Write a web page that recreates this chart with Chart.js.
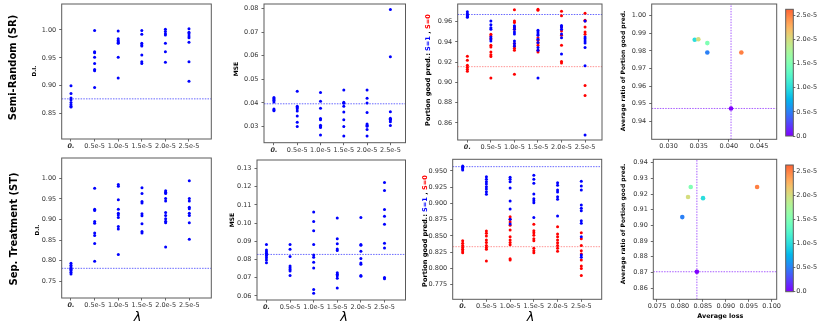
<!DOCTYPE html>
<html><head><meta charset="utf-8">
<script src="https://cdn.jsdelivr.net/npm/chart.js@4/dist/chart.umd.min.js"></script>
<style>
html,body{margin:0;padding:0;background:#fff;}
#wrap{position:relative;width:822px;height:329px;overflow:hidden;background:#fff;}
#wrap canvas{position:absolute;left:0;top:0;}
</style></head><body><div id="wrap"></div>
<script>
// ---------------- DATA ----------------
const lambdaLabels = ['0.', '0.5e-5', '1.0e-5', '1.5e-5', '2.0e-5', '2.5e-5'];
const lambdaValues = [0, 0.5e-5, 1.0e-5, 1.5e-5, 2.0e-5, 2.5e-5];
const colorbarLabels = ['0.0', '0.5e-5', '1.0e-5', '1.5e-5', '2.0e-5', '2.5e-5'];
const colorbarMax = 2.625e-5;

// Semi-Random (SR) row
const srDI = [
  [0.900, 0.886, 0.878, 0.875, 0.870, 0.866, 0.863, 0.862],
  [0.999, 0.961, 0.959, 0.951, 0.940, 0.929, 0.927, 0.897],
  [0.998, 0.984, 0.981, 0.979, 0.977, 0.976, 0.951, 0.914],
  [0.999, 0.992, 0.976, 0.973, 0.971, 0.955, 0.943, 0.940],
  [1.001, 0.997, 0.993, 0.991, 0.976, 0.961, 0.942],
  [1.002, 0.996, 0.993, 0.989, 0.986, 0.978, 0.943, 0.908]
];
const srDIBase = 0.8765;
const srMSE = [
  [0.0423, 0.0418, 0.0413, 0.0410, 0.0404, 0.0374, 0.0370, 0.0366],
  [0.0449, 0.0386, 0.0380, 0.0375, 0.0365, 0.0344, 0.0318, 0.0299],
  [0.0444, 0.0407, 0.0377, 0.0334, 0.0328, 0.0305, 0.0299, 0.0295, 0.0263],
  [0.0455, 0.0403, 0.0398, 0.0386, 0.0361, 0.0328, 0.0300, 0.0259],
  [0.0455, 0.0420, 0.0399, 0.0359, 0.0310, 0.0305, 0.0301, 0.0287, 0.0259],
  [0.0797, 0.0596, 0.0362, 0.0335, 0.0330, 0.0327, 0.0320, 0.0304]
];
const srMSEBase = 0.0396;
const srGoodS1 = [
  [0.970, 0.968, 0.967, 0.966, 0.965, 0.9645],
  [0.9607, 0.957, 0.954, 0.9525, 0.945, 0.943, 0.941],
  [0.9561, 0.9548, 0.9525, 0.950, 0.948, 0.941, 0.9384, 0.936],
  [0.9515, 0.950, 0.948, 0.9466, 0.9427, 0.9394, 0.9345, 0.9319, 0.9044],
  [0.9564, 0.9548, 0.9525, 0.948, 0.9443, 0.928],
  [0.9607, 0.945, 0.9433, 0.941, 0.9391, 0.9345, 0.9165, 0.8479]
];
const srGoodS0 = [
  [0.926, 0.922, 0.917, 0.915, 0.913, 0.911],
  [0.9476, 0.946, 0.9433, 0.9368, 0.935, 0.930, 0.9273, 0.9257, 0.9044],
  [0.9718, 0.9607, 0.9593, 0.954, 0.9525, 0.9384, 0.9358, 0.9338, 0.9319, 0.908],
  [0.9724, 0.9714, 0.9443, 0.9417, 0.9391, 0.9368, 0.9319, 0.930],
  [0.9705, 0.966, 0.9548, 0.9508, 0.9466, 0.9368, 0.9208, 0.9191],
  [0.9685, 0.9616, 0.9607, 0.9548, 0.950, 0.9476, 0.897, 0.8871]
];
const srGoodS1Base = 0.9672;
const srGoodS0Base = 0.9156;
const srAvgLoss = [0.04036, 0.03643, 0.03434, 0.03643, 0.03494, 0.04207];
const srAvgRatio = [0.9473, 0.9791, 0.9863, 0.9844, 0.9866, 0.9791];

// Sep. Treatment (ST) row
const stDI = [
  [0.794, 0.789, 0.785, 0.782, 0.779, 0.776, 0.772, 0.768],
  [0.976, 0.925, 0.922, 0.895, 0.891, 0.867, 0.861, 0.842, 0.799],
  [0.985, 0.981, 0.948, 0.925, 0.915, 0.911, 0.905, 0.883, 0.877, 0.815],
  [0.977, 0.963, 0.944, 0.940, 0.914, 0.909, 0.890, 0.871, 0.867],
  [0.970, 0.966, 0.963, 0.951, 0.945, 0.917, 0.910, 0.902, 0.896, 0.892, 0.833],
  [0.994, 0.951, 0.945, 0.930, 0.926, 0.915, 0.910, 0.892, 0.852]
];
const stDIBase = 0.7815;
const stMSE = [
  [0.0883, 0.0852, 0.0843, 0.0834, 0.0826, 0.0821, 0.0810, 0.0797, 0.0783],
  [0.0883, 0.0856, 0.0816, 0.0764, 0.0755, 0.0746, 0.0737, 0.0713],
  [0.1061, 0.1008, 0.0958, 0.0883, 0.0825, 0.0812, 0.0785, 0.0753, 0.0635, 0.0615],
  [0.1028, 0.0914, 0.0887, 0.0858, 0.0850, 0.0728, 0.0719, 0.0711, 0.0697, 0.0644],
  [0.1031, 0.0883, 0.0878, 0.0845, 0.0805, 0.0781, 0.0774, 0.0713, 0.0708],
  [0.1223, 0.1179, 0.1075, 0.1037, 0.0993, 0.0889, 0.0863, 0.0702, 0.0695]
];
const stMSEBase = 0.0828;
const stGoodS1 = [
  [0.9577, 0.9556, 0.9536, 0.9515],
  [0.9413, 0.9372, 0.9336, 0.930, 0.9259, 0.9223, 0.9182, 0.9141],
  [0.9402, 0.9372, 0.9336, 0.9238, 0.9038, 0.8915, 0.8756, 0.8684],
  [0.9433, 0.9372, 0.931, 0.9146, 0.9074, 0.9043, 0.9012, 0.8786],
  [0.932, 0.9279, 0.9207, 0.9177, 0.9105, 0.9064, 0.8807],
  [0.9341, 0.9269, 0.9207, 0.8976, 0.8925, 0.8889, 0.8735, 0.8694, 0.8489, 0.8206, 0.8171]
];
const stGoodS0 = [
  [0.8427, 0.8386, 0.8355, 0.8324, 0.8294, 0.8268, 0.8242],
  [0.8576, 0.854, 0.8499, 0.8437, 0.8401, 0.8355, 0.8324, 0.8294, 0.8114],
  [0.8797, 0.8756, 0.8715, 0.8663, 0.8591, 0.8489, 0.8437, 0.8401, 0.8365, 0.815, 0.8129],
  [0.8679, 0.8581, 0.855, 0.8509, 0.8458, 0.8427, 0.8309, 0.8273, 0.8242],
  [0.8643, 0.853, 0.8489, 0.8437, 0.8396, 0.8355, 0.8309, 0.8263],
  [0.855, 0.8458, 0.8355, 0.8273, 0.8222, 0.8129, 0.8037, 0.8001, 0.7893]
];
const stGoodS1Base = 0.9567;
const stGoodS0Base = 0.8335;
const stAvgLoss = [0.0837, 0.08052, 0.08504, 0.08236, 0.08177, 0.09683];
const stAvgRatio = [0.8704, 0.9053, 0.9174, 0.9245, 0.9181, 0.9245];

// tick values
const ticksSrDI = [0.85, 0.90, 0.95, 1.00];
const ticksStDI = [0.75, 0.80, 0.85, 0.90, 0.95, 1.00];
const ticksSrMSE = [0.03, 0.04, 0.05, 0.06, 0.07, 0.08];
const ticksStMSE = [0.06, 0.07, 0.08, 0.09, 0.10, 0.11, 0.12, 0.13];
const ticksSrGood = [0.86, 0.88, 0.90, 0.92, 0.94, 0.96];
const ticksStGood = [0.775, 0.800, 0.825, 0.850, 0.875, 0.900, 0.925, 0.950];
const ticksSrRatio = [0.94, 0.95, 0.96, 0.97, 0.98, 0.99, 1.00];
const ticksStRatio = [0.86, 0.87, 0.88, 0.89, 0.90, 0.91, 0.92, 0.93, 0.94];
const ticksSrLoss = [0.030, 0.035, 0.040, 0.045];
const ticksStLoss = [0.075, 0.080, 0.085, 0.090, 0.095, 0.100];
const ticksCategory = [0, 1, 2, 3, 4, 5];

// ---------------- RENDERING ----------------
const W = 822, H = 329;
const FONT = '"DejaVu Sans", sans-serif';
const TICK_COLOR = '#333';
const NORM_MAX = 3e-5;
const wrap = document.getElementById('wrap');

function rainbow(t) {
  const r = Math.min(1, Math.abs(2 * t - 0.5));
  const g = Math.sin(Math.PI * t);
  const b = Math.cos(Math.PI * t / 2);
  return 'rgb(' + Math.round(r * 255) + ',' + Math.round(g * 255) + ',' + Math.round(b * 255) + ')';
}

function mkCanvas() {
  const c = document.createElement('canvas');
  c.width = W; c.height = H;
  c.style.width = W + 'px'; c.style.height = H + 'px';
  wrap.appendChild(c);
  return c;
}

const framePlugin = {
  id: 'frame',
  afterDraw(chart) {
    const a = chart.chartArea, ctx = chart.ctx;
    ctx.save();
    ctx.strokeStyle = '#5a5a5a';
    ctx.lineWidth = 1;
    ctx.strokeRect(a.left, a.top, a.right - a.left, a.bottom - a.top);
    ctx.restore();
  }
};

function textPlugin(items) {
  return {
    id: 'extraText',
    afterDraw(chart) {
      const ctx = chart.ctx;
      items.forEach(it => {
        ctx.save();
        ctx.translate(it.x, it.y);
        if (it.rot) ctx.rotate(-Math.PI / 2);
        ctx.textBaseline = 'middle';
        ctx.textAlign = 'left';
        ctx.font = it.font;
        const parts = it.parts || [{ text: it.text, color: it.color || '#000' }];
        const widths = parts.map(p => ctx.measureText(p.text).width);
        let x = -widths.reduce((a, b) => a + b, 0) / 2;
        parts.forEach((p, i) => { ctx.fillStyle = p.color; ctx.fillText(p.text, x, 0); x += widths[i]; });
        ctx.restore();
      });
    }
  };
}

function axis(o) {
  const horiz = o.pos === 'bottom';
  const baseFont = { family: FONT, size: 6.5 };
  return {
    type: 'linear', position: o.pos, min: o.min, max: o.max,
    afterBuildTicks: s => { s.ticks = o.ticks.map(v => ({ value: v })); },
    afterFit: s => {
      if (horiz) s.height = o.size; else s.width = o.size;
      s.paddingLeft = 0; s.paddingRight = 0; s.paddingTop = 0; s.paddingBottom = 0;
    },
    ticks: {
      autoSkip: false, maxRotation: 0, minRotation: 0, color: TICK_COLOR,
      padding: horiz ? 1 : (o.pos === 'right' ? 1 : 3),
      font: o.boldZero ? (c => (c.tick && c.tick.value === 0) ? { family: FONT, size: 6.5, weight: 'bold', style: 'italic' } : baseFont) : baseFont,
      callback: o.fmt
    },
    grid: { display: true, drawOnChartArea: false, drawTicks: true, tickLength: o.pos === 'right' ? 2 : 2.5, color: '#444', lineWidth: 0.8 },
    border: { display: false }
  };
}

function catPoints(groups) {
  const pts = [];
  groups.forEach((arr, i) => arr.forEach(v => pts.push({ x: i, y: v })));
  return pts;
}

function hLine(xmin, xmax, y, color) {
  return { data: [{ x: xmin, y: y }, { x: xmax, y: y }], showLine: true, borderColor: color, borderWidth: 1,
    borderDash: [1.5, 1.2], pointRadius: 0, order: 3 };
}
function vLine(x, ymin, ymax, color) {
  return { data: [{ x: x, y: ymin }, { x: x, y: ymax }], showLine: true, borderColor: color, borderWidth: 1,
    borderDash: [1.5, 1.2], pointRadius: 0, order: 3 };
}
function dots(pts, color, r, order) {
  return { data: pts, pointRadius: r, pointBackgroundColor: color, pointBorderWidth: 0, borderWidth: 0,
    showLine: false, order: order };
}

function scatterChart(g, xs, ys, datasets, texts) {
  new Chart(mkCanvas(), {
    type: 'scatter',
    data: { datasets },
    options: {
      responsive: false, animation: false, devicePixelRatio: 1, events: [],
      layout: { padding: { left: g.L - g.yW, top: g.T, right: W - g.R, bottom: H - g.B - g.xH } },
      plugins: { legend: { display: false }, tooltip: { enabled: false } },
      scales: { x: xs, y: ys }
    },
    plugins: [framePlugin, textPlugin(texts)]
  });
}

function catPanel(g, yTicks, yFmt, datasets, texts) {
  scatterChart(g,
    axis({ pos: 'bottom', min: g.xmin, max: g.xmax, ticks: ticksCategory, fmt: v => lambdaLabels[Math.round(v)], size: g.xH, boldZero: true }),
    axis({ pos: 'left', min: g.ymin, max: g.ymax, ticks: yTicks, fmt: yFmt, size: g.yW }),
    datasets, texts);
}

function colorbarChart(g) {
  new Chart(mkCanvas(), {
    type: 'bar',
    data: { labels: ['λ'], datasets: [{
      data: [[0, colorbarMax]], barPercentage: 1, categoryPercentage: 1, borderWidth: 0,
      backgroundColor: c => {
        const a = c.chart.chartArea;
        if (!a) return rainbow(0.4);
        const gr = c.chart.ctx.createLinearGradient(0, a.bottom, 0, a.top);
        for (let k = 0; k <= 24; k++) {
          const t = k / 24;
          gr.addColorStop(t, rainbow(t * colorbarMax / NORM_MAX));
        }
        return gr;
      }
    }] },
    options: {
      responsive: false, animation: false, devicePixelRatio: 1, events: [],
      layout: { padding: { left: g.L, top: g.T, right: W - g.R - 25, bottom: H - g.B } },
      plugins: { legend: { display: false }, tooltip: { enabled: false } },
      scales: {
        x: { display: false },
        y: axis({ pos: 'right', min: 0, max: colorbarMax, ticks: lambdaValues,
          fmt: v => colorbarLabels[lambdaValues.findIndex(l => Math.abs(l - v) < 1e-9)], size: 25 })
      }
    },
    plugins: [framePlugin]
  });
}

const BLUE = '#0000ff', RED = '#ff0000';
const BLUE_LINE = 'rgba(40,40,255,0.7)', RED_LINE = 'rgba(255,60,60,0.55)', PURPLE_LINE = 'rgba(140,40,255,0.75)';
const F2 = v => v.toFixed(2), F3 = v => v.toFixed(3);
const ROWF = 'bold 10px ' + FONT;
const YF = 'bold 6px ' + FONT;
const LAMF = 'italic 13px ' + FONT;

// ---- Row 1 : Semi-Random ----
let g = { L: 61.7, R: 211.3, T: 3.3, B: 139, yW: 30, xH: 12, xmin: -0.394, xmax: 5.945, ymin: 0.8046, ymax: 1.0464 };
catPanel(g, ticksSrDI, F2, [hLine(g.xmin, g.xmax, srDIBase, BLUE_LINE), dots(catPoints(srDI), BLUE, 1.5, 1)], [
  { text: 'Semi-Random (SR)', x: 13.5, y: 67.5, rot: true, font: ROWF },
  { text: 'D.I.', x: 34.5, y: 71, rot: true, font: 'bold 5.5px ' + FONT }
]);
g = { L: 264, R: 405.5, T: 3.3, B: 142.7, yW: 30, xH: 12, xmin: -0.427, xmax: 5.65, ymin: 0.02307, ymax: 0.08199 };
catPanel(g, ticksSrMSE, F2, [hLine(g.xmin, g.xmax, srMSEBase, BLUE_LINE), dots(catPoints(srMSE), BLUE, 1.5, 1)], [
  { text: 'MSE', x: 236.7, y: 69, rot: true, font: YF }
]);
g = { L: 457.7, R: 602, T: 2.7, B: 140, yW: 30, xH: 12, xmin: -0.41, xmax: 5.72, ymin: 0.843, ymax: 0.9776 };
catPanel(g, ticksSrGood, F2, [
  hLine(g.xmin, g.xmax, srGoodS1Base, BLUE_LINE), hLine(g.xmin, g.xmax, srGoodS0Base, RED_LINE),
  dots(catPoints(srGoodS0), RED, 1.5, 2), dots(catPoints(srGoodS1), BLUE, 1.5, 1)], [
  { x: 428.5, y: 70, rot: true, font: 'bold 6.6px ' + FONT, parts: [
    { text: 'Portion good pred.: ', color: '#000' }, { text: 'S=1', color: BLUE }, { text: ' , ', color: '#000' }, { text: 'S=0', color: RED }] }
]);
g = { L: 651.7, R: 776.7, T: 3.3, B: 139.3, yW: 30, xH: 12, xmin: 0.02721, xmax: 0.04793, ymin: 0.9298, ymax: 1.0066 };
scatterChart(g,
  axis({ pos: 'bottom', min: g.xmin, max: g.xmax, ticks: ticksSrLoss, fmt: F3, size: g.xH }),
  axis({ pos: 'left', min: g.ymin, max: g.ymax, ticks: ticksSrRatio, fmt: F2, size: g.yW }),
  [hLine(g.xmin, g.xmax, srAvgRatio[0], PURPLE_LINE), vLine(srAvgLoss[0], g.ymin, g.ymax, PURPLE_LINE),
   dots(srAvgLoss.map((x, i) => ({ x: x, y: srAvgRatio[i] })), lambdaValues.map(l => rainbow(l / NORM_MAX)), 2.3, 1)],
  [{ text: 'Average ratio of Portion good pred.', x: 623.5, y: 71, rot: true, font: YF }]);
colorbarChart({ L: 785.7, R: 793.3, T: 9.3, B: 136 });

// ---- Row 2 : Sep. Treatment ----
g = { L: 61.7, R: 211.3, T: 158, B: 298, yW: 30, xH: 12, xmin: -0.393, xmax: 5.93, ymin: 0.7095, ymax: 1.0493 };
catPanel(g, ticksStDI, F2, [hLine(g.xmin, g.xmax, stDIBase, BLUE_LINE), dots(catPoints(stDI), BLUE, 1.5, 1)], [
  { text: 'Sep. Treatment (ST)', x: 14, y: 229, rot: true, font: ROWF },
  { text: 'D.I.', x: 37.7, y: 230, rot: true, font: 'bold 5.5px ' + FONT },
  { text: 'λ', x: 137.7, y: 318, font: LAMF }
]);
g = { L: 257, R: 405.5, T: 160, B: 300, yW: 30, xH: 12, xmin: -0.4, xmax: 5.89, ymin: 0.0578, ymax: 0.1346 };
catPanel(g, ticksStMSE, F2, [hLine(g.xmin, g.xmax, stMSEBase, BLUE_LINE), dots(catPoints(stMSE), BLUE, 1.5, 1)], [
  { text: 'MSE', x: 232.7, y: 220, rot: true, font: YF },
  { text: 'λ', x: 344, y: 318, font: LAMF }
]);
g = { L: 452.7, R: 601.7, T: 159.3, B: 299.3, yW: 30, xH: 12, xmin: -0.42, xmax: 5.86, ymin: 0.7525, ymax: 0.968 };
catPanel(g, ticksStGood, F3, [
  hLine(g.xmin, g.xmax, stGoodS1Base, BLUE_LINE), hLine(g.xmin, g.xmax, stGoodS0Base, RED_LINE),
  dots(catPoints(stGoodS0), RED, 1.5, 2), dots(catPoints(stGoodS1), BLUE, 1.5, 1)], [
  { x: 425.5, y: 231, rot: true, font: 'bold 6.6px ' + FONT, parts: [
    { text: 'Portion good pred.: ', color: '#000' }, { text: 'S=1', color: BLUE }, { text: ' , ', color: '#000' }, { text: 'S=0', color: RED }] },
  { text: 'λ', x: 530.7, y: 318, font: LAMF }
]);
g = { L: 653.3, R: 776.7, T: 159.3, B: 299.3, yW: 30, xH: 12, xmin: 0.0742, xmax: 0.1011, ymin: 0.8528, ymax: 0.9422 };
scatterChart(g,
  axis({ pos: 'bottom', min: g.xmin, max: g.xmax, ticks: ticksStLoss, fmt: F3, size: g.xH }),
  axis({ pos: 'left', min: g.ymin, max: g.ymax, ticks: ticksStRatio, fmt: F2, size: g.yW }),
  [hLine(g.xmin, g.xmax, stAvgRatio[0], PURPLE_LINE), vLine(stAvgLoss[0], g.ymin, g.ymax, PURPLE_LINE),
   dots(stAvgLoss.map((x, i) => ({ x: x, y: stAvgRatio[i] })), lambdaValues.map(l => rainbow(l / NORM_MAX)), 2.3, 1)],
  [{ text: 'Average ratio of Portion good pred.', x: 623.5, y: 224, rot: true, font: YF },
   { text: 'Average loss', x: 720.3, y: 316, font: 'bold 6.4px ' + FONT }]);
colorbarChart({ L: 785.7, R: 793.3, T: 165, B: 291.7 });
</script>
</body></html>
